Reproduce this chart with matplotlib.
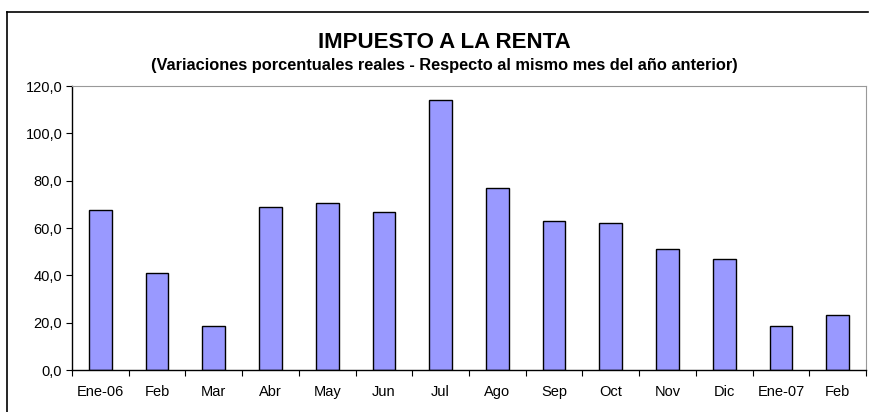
import matplotlib.pyplot as plt
from matplotlib.lines import Line2D
from matplotlib.ticker import FuncFormatter

plt.rcParams['font.family'] = ['Liberation Sans', 'DejaVu Sans']

meses = ['Ene-06', 'Feb', 'Mar', 'Abr', 'May', 'Jun', 'Jul', 'Ago',
         'Sep', 'Oct', 'Nov', 'Dic', 'Ene-07', 'Feb']
variacion = [67.5, 40.8, 18.5, 68.8, 70.5, 66.9, 114.1, 76.8,
             62.9, 62.3, 51.2, 47.0, 18.7, 23.3]

fig = plt.figure(figsize=(8.69, 4.12), dpi=100)
ax = fig.add_axes([72 / 869, 1 - 370 / 412, (866 - 72) / 869, (370 - 86) / 412])

x = list(range(len(meses)))
ax.bar(x, variacion, width=0.4, color='#9999FF', edgecolor='black', linewidth=1)

ax.set_xlim(-0.5, len(meses) - 0.5)
ax.set_ylim(0, 120)
ax.set_yticks(range(0, 121, 20))
ax.yaxis.set_major_formatter(FuncFormatter(lambda v, p: f'{v:.1f}'.replace('.', ',')))
ax.set_xticks(x)
ax.set_xticklabels(meses)
ax.set_xticks([i - 0.5 for i in range(len(meses) + 1)], minor=True)
ax.tick_params(axis='x', which='major', length=0, pad=11, labelsize=10.5)
ax.tick_params(axis='x', which='minor', length=4, direction='out', width=0.8)
ax.tick_params(axis='y', length=4, direction='out', width=0.8, labelsize=10.5, pad=3)

ax.spines['top'].set_color('#999999')
ax.spines['right'].set_color('#999999')
for s in ['left', 'bottom']:
    ax.spines[s].set_linewidth(1)

fig.text(0.511, 0.898, 'IMPUESTO A LA RENTA', ha='center', va='center',
         fontsize=16, fontweight='bold')
fig.text(0.511, 0.84, '(Variaciones porcentuales reales - Respecto al mismo mes del año anterior)',
         ha='center', va='center', fontsize=11.8, fontweight='bold')

# marco exterior
fig.add_artist(Line2D([7 / 869, 7 / 869], [0, 1 - 12 / 412], color='black', lw=1.2))
fig.add_artist(Line2D([7 / 869, 868 / 869], [1 - 12 / 412, 1 - 12 / 412], color='black', lw=1.2))

fig.savefig('out.png', dpi=100)
